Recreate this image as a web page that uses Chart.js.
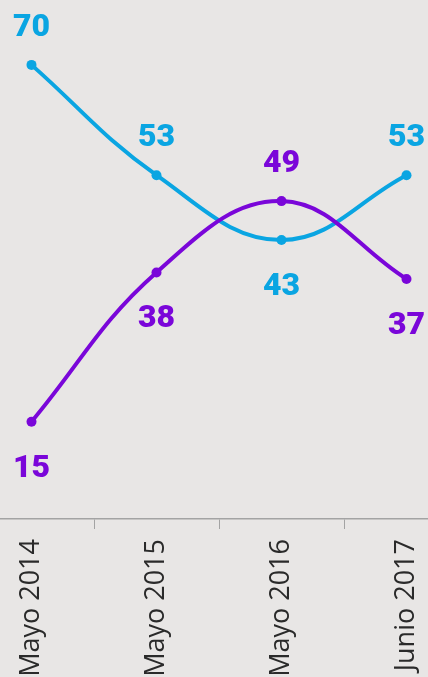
<!DOCTYPE html>
<html>
<head>
<meta charset="utf-8">
<script src="https://cdn.jsdelivr.net/npm/chart.js@4.4.1/dist/chart.umd.min.js"></script>
<style>
    html, body { margin: 0; padding: 0; background: #e8e6e5; }
    #wrap { position: relative; width: 428px; height: 677px; overflow: hidden; background: #e8e6e5; }
    #chartBox { position: absolute; left: -31px; top: 0; width: 500px; height: 677px; }
</style>
</head>
<body>
<div id="wrap">
    <div id="chartBox"><canvas id="lineChart"></canvas></div>
</div>
<script>
const periods = ['Mayo 2014', 'Mayo 2015', 'Mayo 2016', 'Junio 2017'];
const blueValues = [70, 53, 43, 53];
const purpleValues = [15, 38, 49, 37];
// where each value label sits relative to its point
const bluePlaces = ['top', 'top', 'bottom', 'top'];
const purplePlaces = ['bottom', 'bottom', 'top', 'bottom'];

const BLUE = '#0aa5e2';
const PURPLE = '#7a06d9';

const valueLabels = {
    id: 'valueLabels',
    afterDatasetsDraw(chart) {
        const ctx = chart.ctx;
        ctx.save();
        ctx.font = "900 32px Roboto, sans-serif";
        ctx.textAlign = 'center';
        ctx.textBaseline = 'middle';
        chart.data.datasets.forEach((ds, di) => {
            const meta = chart.getDatasetMeta(di);
            meta.data.forEach((pt, i) => {
                const place = ds.places[i];
                const y = place === 'top' ? pt.y - 37 : pt.y + 47;
                ctx.fillStyle = ds.borderColor;
                ctx.fillText(String(ds.data[i]), pt.x, y);
            });
        });
        ctx.restore();
    }
};

function initChart() {
    const ctx = document.getElementById('lineChart');
    new Chart(ctx, {
        type: 'line',
        data: {
            labels: periods,
            datasets: [
                {
                    data: purpleValues,
                    places: purplePlaces,
                    borderColor: PURPLE,
                    backgroundColor: PURPLE,
                    borderWidth: 4,
                    pointRadius: 5,
                    pointBorderWidth: 0,
                    tension: 0.4
                },
                {
                    data: blueValues,
                    places: bluePlaces,
                    borderColor: BLUE,
                    backgroundColor: BLUE,
                    borderWidth: 4,
                    pointRadius: 5,
                    pointBorderWidth: 0,
                    tension: 0.4
                }
            ]
        },
        options: {
            responsive: true,
            maintainAspectRatio: false,
            animation: false,
            layout: { padding: 0, autoPadding: false },
            plugins: {
                legend: { display: false },
                tooltip: { enabled: false }
            },
            scales: {
                y: {
                    display: false,
                    min: 0,
                    max: 80
                },
                x: {
                    offset: true,
                    afterFit(scale) {
                        scale.height = 158;
                        scale.paddingLeft = 0;
                        scale.paddingRight = 0;
                    },
                    border: { color: '#a3a3a3', width: 1.5 },
                    grid: {
                        offset: true,
                        drawOnChartArea: false,
                        drawTicks: true,
                        tickLength: 10,
                        color: '#a3a3a3'
                    },
                    ticks: {
                        minRotation: 90,
                        maxRotation: 90,
                        padding: 10,
                        color: '#2a2a2a',
                        font: { family: "'Open Sans', sans-serif", size: 27 }
                    }
                }
            }
        },
        plugins: [valueLabels]
    });
}

document.addEventListener('DOMContentLoaded', initChart);
</script>
</body>
</html>
